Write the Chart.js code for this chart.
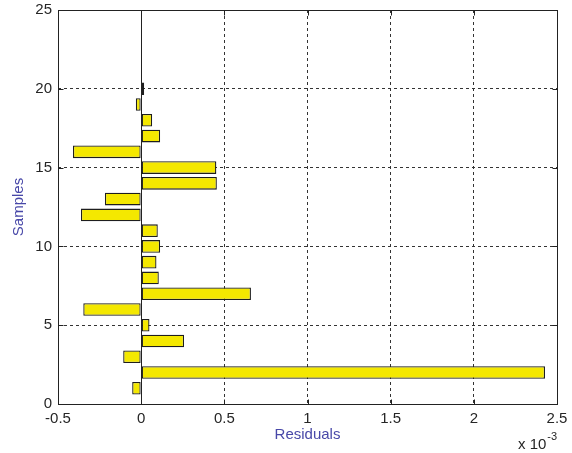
<!DOCTYPE html>
<html>
<head>
<meta charset="utf-8">
<script src="https://cdn.jsdelivr.net/npm/chart.js@4/dist/chart.umd.min.js"></script>
<style>
  html, body { margin: 0; padding: 0; background: #fff; }
  #wrap { width: 572px; height: 453px; position: relative; }
</style>
</head>
<body>
<div id="wrap"><canvas id="c" width="572" height="453"></canvas></div>
<script>
// Sample numbers (y axis)
const samples = [1, 2, 3, 4, 5, 6, 7, 8, 9, 10, 11, 12, 13, 14, 15, 16, 17, 18, 19, 20];
// Residuals, in units of 1e-3 (axis shows "x 10^-3")
const residuals = [-0.054, 2.428, -0.108, 0.258, 0.050, -0.348, 0.660, 0.106, 0.092, 0.114,
                   0.100, -0.362, -0.218, 0.455, 0.452, -0.410, 0.114, 0.066, -0.032, 0.018];
// Tick values
const xTickValues = [-0.5, 0, 0.5, 1, 1.5, 2, 2.5];
const yTickValues = [0, 5, 10, 15, 20, 25];
const xTitle = 'Residuals';
const yTitle = 'Samples';
const xExponent = '-3';

const tickFont = { family: 'Liberation Sans, Arial, sans-serif', size: 15 };
const titleFont = { family: 'Liberation Sans, Arial, sans-serif', size: 15 };
const titleColor = '#4848a8';
const tickColor = '#262626';

const framePlugin = {
  id: 'frame',
  afterDatasetsDraw(chart) {
    const { ctx, chartArea: a, scales } = chart;
    ctx.save();
    const x0 = Math.round(scales.x.getPixelForValue(0)) + 0.5;
    ctx.strokeStyle = '#222';
    ctx.lineWidth = 1;
    ctx.beginPath();
    ctx.moveTo(x0, a.top);
    ctx.lineTo(x0, a.bottom);
    ctx.stroke();
    ctx.restore();
  },
  afterDraw(chart) {
    const { ctx, chartArea: a, scales } = chart;
    ctx.save();
    ctx.strokeStyle = '#222';
    ctx.lineWidth = 1;
    const L = Math.round(a.left) + 0.5, R = Math.round(a.right) + 0.5;
    const T = Math.round(a.top) + 0.5, B = Math.round(a.bottom) + 0.5;
    ctx.strokeRect(L, T, R - L, B - T);
    const tl = 5;
    ctx.beginPath();
    xTickValues.forEach(v => {
      const px = Math.round(scales.x.getPixelForValue(v)) + 0.5;
      ctx.moveTo(px, B); ctx.lineTo(px, B - tl);
      ctx.moveTo(px, T); ctx.lineTo(px, T + tl);
    });
    yTickValues.forEach(v => {
      const py = Math.round(scales.y.getPixelForValue(v)) + 0.5;
      ctx.moveTo(L, py); ctx.lineTo(L + tl, py);
      ctx.moveTo(R, py); ctx.lineTo(R - tl, py);
    });
    ctx.stroke();
    ctx.fillStyle = tickColor;
    ctx.textBaseline = 'alphabetic';
    ctx.textAlign = 'left';
    ctx.font = '15px "Liberation Sans", Arial, sans-serif';
    const base = 'x 10';
    const bx = 518, by = 449;
    ctx.fillText(base, bx, by);
    const w = ctx.measureText(base).width;
    ctx.font = '11px "Liberation Sans", Arial, sans-serif';
    ctx.fillText(xExponent, bx + w + 1, by - 9);
    ctx.restore();
  }
};

new Chart(document.getElementById('c'), {
  type: 'bar',
  data: {
    datasets: [{
      data: samples.map((s, i) => ({ x: residuals[i], y: s })),
      backgroundColor: '#f4e800',
      borderColor: '#1e1e1e',
      borderWidth: 1.3,
      borderSkipped: false,
      barPercentage: 0.8,
      categoryPercentage: 1.0
    }]
  },
  options: {
    indexAxis: 'y',
    responsive: false,
    animation: false,
    devicePixelRatio: 1,
    layout: { padding: { left: 0, top: 10, right: 15, bottom: 0 } },
    plugins: { legend: { display: false }, tooltip: { enabled: false } },
    scales: {
      x: {
        type: 'linear',
        min: -0.5, max: 2.5,
        offset: false,
        afterBuildTicks: s => { s.ticks = xTickValues.map(v => ({ value: v })); },
        afterFit: s => { s.height = 49; s.paddingLeft = 0; s.paddingRight = 0; },
        border: { display: false, dash: [3, 3] },
        grid: {
          offset: false,
          drawTicks: false,
          color: c => (c.tick && (c.tick.value === 0 || c.tick.value === -0.5 || c.tick.value === 2.5)) ? 'rgba(0,0,0,0)' : '#333',
          lineWidth: 1
        },
        ticks: {
          color: tickColor, font: tickFont, padding: 6, maxRotation: 0,
          callback: v => String(v)
        },
        title: { display: true, text: xTitle, color: titleColor, font: titleFont, padding: { top: 0, bottom: 9 } }
      },
      y: {
        type: 'linear',
        min: 0, max: 25,
        offset: false,
        afterBuildTicks: s => { s.ticks = yTickValues.map(v => ({ value: v })); },
        afterFit: s => { s.width = 58; s.paddingTop = 0; s.paddingBottom = 0; },
        border: { display: false, dash: [3, 3] },
        grid: {
          offset: false,
          drawTicks: false,
          color: c => (c.tick && (c.tick.value === 0 || c.tick.value === 25)) ? 'rgba(0,0,0,0)' : '#333',
          lineWidth: 1
        },
        ticks: { color: tickColor, font: tickFont, padding: 6, callback: v => String(v) },
        title: { display: true, text: yTitle, color: titleColor, font: titleFont, padding: { top: 10, bottom: 0 } }
      }
    }
  },
  plugins: [framePlugin]
});
</script>
</body>
</html>
